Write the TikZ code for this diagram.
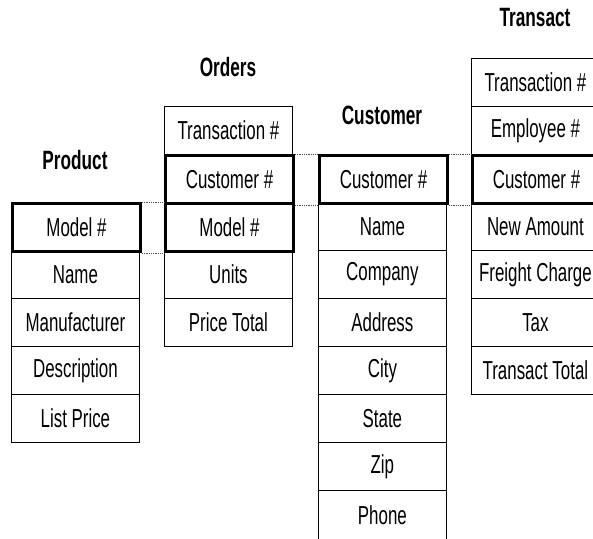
\documentclass[tikz,border=0pt]{standalone}
\usepackage{fontspec}
\setmainfont{Liberation Sans}[FakeStretch=0.65]
\begin{document}
\begin{tikzpicture}[x=1pt,y=-1pt,
  cell/.style={draw=black,line width=0.8pt,minimum width=128pt,minimum height=48pt,
    inner sep=0pt,anchor=north west,font=\fontsize{26}{28}\selectfont},
  keycell/.style={cell,line width=3pt},
  title/.style={font=\bfseries\fontsize{26.5}{28}\selectfont},
  link/.style={densely dotted,line width=0.8pt,black!70}]
\useasboundingbox (0,0) rectangle (593,538);
\clip (0,0) rectangle (593,538);

% table titles
\node[title] (tp) at (75,160) {Product};
\node[title] (to) at (228,67) {Orders};
\node[title] (tcu) at (382,115) {Customer};
\node[title] (tt) at (535,18) {Transact};

% Product
\node[cell] (p2) at (11,250) {Name};
\node[cell] (p3) at (11,298) {Manufacturer};
\node[cell] (p4) at (11,346) {Description};
\node[cell] (p5) at (11,394) {List Price};

% Orders
\node[cell] (o1) at (164,106) {Transaction \#};
\node[cell] (o4) at (164,250) {Units};
\node[cell] (o5) at (164,298) {Price Total};

% Customer
\node[cell] (c2) at (318,202) {Name};
\node[cell] (c3) at (318,250) {Company};
\node[cell] (c4) at (318,298) {Address};
\node[cell] (c5) at (318,346) {City};
\node[cell] (c6) at (318,394) {State};
\node[cell] (c7) at (318,442) {Zip};
\node[cell,minimum height=52pt] (c8) at (318,490) {\raisebox{2pt}{Phone}};

% Transact
\node[cell] (t1) at (471,58) {Transaction \#};
\node[cell] (t2) at (471,106) {Employee \#};
\node[cell] (t4) at (471,202) {New Amount};
\node[cell] (t5) at (471,250) {Freight Charge};
\node[cell] (t6) at (471,298) {Tax};
\node[cell] (t7) at (471,346) {Transact Total};

% key fields
\node[keycell] (pm) at (11,202) {Model \#};
\node[keycell] (oc) at (164,154) {Customer \#};
\node[keycell] (om) at (164,202) {Model \#};
\node[keycell] (cc) at (318,154) {Customer \#};
\node[keycell] (tc) at (471,154) {Customer \#};

% links between matching keys
\draw[link] (pm.north east) -- (om.north west);
\draw[link] (pm.south east) -- (om.south west);
\draw[link] (oc.north east) -- (cc.north west);
\draw[link] (oc.south east) -- (cc.south west);
\draw[link] (cc.north east) -- (tc.north west);
\draw[link] (cc.south east) -- (tc.south west);
\end{tikzpicture}
\end{document}
